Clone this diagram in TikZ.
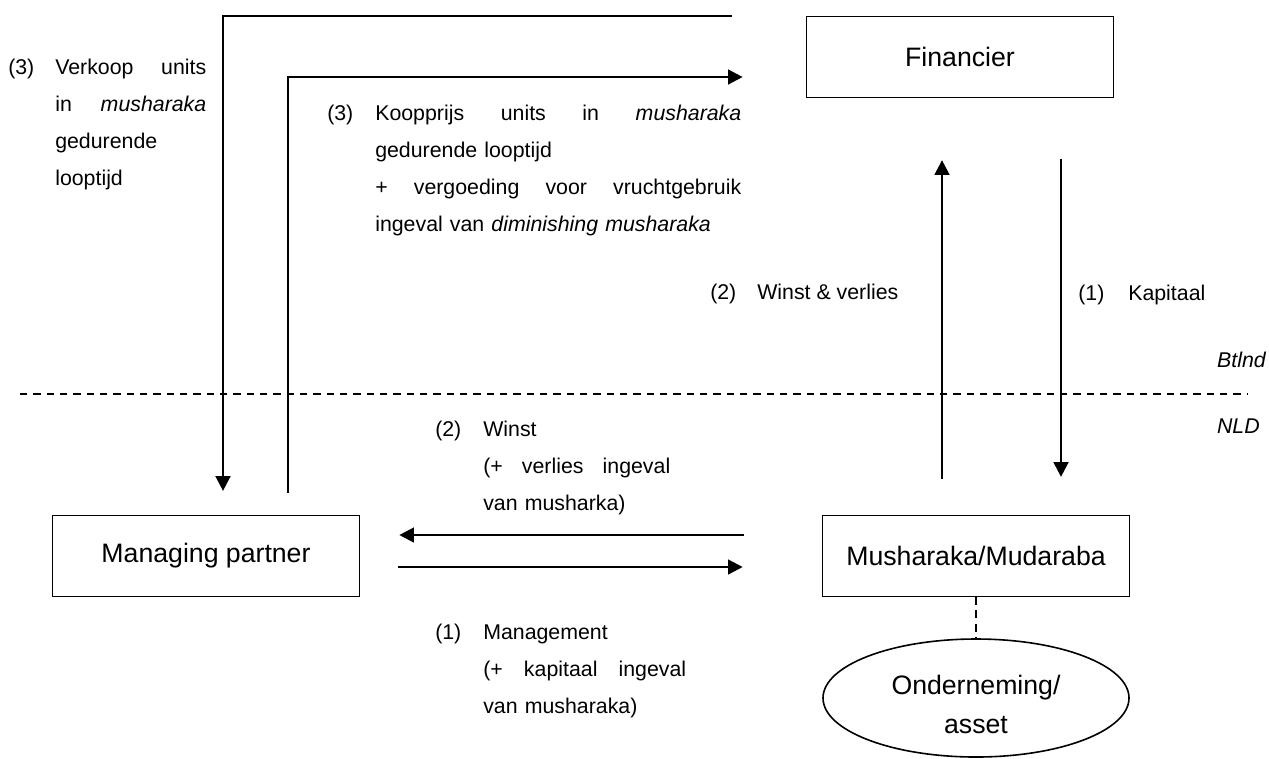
\documentclass[tikz,border=0pt]{standalone}
\usepackage{fontspec}
\setmainfont{Liberation Sans}
\usetikzlibrary{arrows.meta,calc,shapes.geometric}

\begin{document}
\begin{tikzpicture}[x=0.75pt, y=-0.75pt,
	party/.style={draw, line width=1.2pt, minimum width=230.25pt, minimum height=60.5pt, inner sep=0pt, font=\fontsize{20}{29.25}\selectfont},
	lbl/.style={anchor=base west, inner sep=0pt, align=left, font=\fontsize{16}{27.75}\selectfont},
	flow/.style={line width=1.8pt, -{Triangle[length=11pt,width=11pt]}},
	border/.style={line width=1pt, dash pattern=on 5.5pt off 4.5pt}]
	\useasboundingbox (0,0) rectangle (1269,758);

	\node [party] (fin) at (960,57) {Financier};
	\node [party] (mp) at (206,556) {Managing partner};
	\node [party] (mush) at (976,556) {Musharaka/Mudaraba};
	\node [draw, ellipse, line width=1.2pt, minimum width=229.5pt, minimum height=88.5pt, inner sep=0pt, font=\fontsize{20}{29.25}\selectfont] (ond) at (976,698) {\raisebox{-11pt}[0pt][0pt]{\begin{tabular}{@{}c@{}}Onderneming/\\asset\end{tabular}}};

	\draw [border] (20,394) -- (1247,394);
	\node [lbl, font=\fontsize{16}{20}\itshape, anchor=base east] (btl) at (1266,367) {Btlnd};
	\node [lbl, font=\fontsize{16}{20}\itshape, anchor=base east] (nld) at (1260,433) {NLD};

	\node [lbl] (n3a) at (8,74) {(3)};
	\node [lbl, text width=113.25pt] (verkoop) at (55,74) {Verkoop\hfill units\\ in\hfill \textit{musharaka}\\ gedurende\\ looptijd};
	\node [lbl] (n3b) at (327,120) {(3)};
	\node [lbl, text width=274.5pt] (koop) at (375,120) {Koopprijs\hfill units\hfill in\hfill \textit{musharaka}\\ gedurende looptijd\\ +\hfill vergoeding\hfill voor\hfill vruchtgebruik\\ ingeval van \textit{diminishing musharaka}};
	\node [lbl] (n2a) at (710,299) {(2)};
	\node [lbl] (winstverlies) at (757,299) {Winst \& verlies};
	\node [lbl] (n1a) at (1078,300) {(1)};
	\node [lbl] (kapitaal) at (1128,300) {Kapitaal};
	\node [lbl] (n2b) at (435,436) {(2)};
	\node [lbl, text width=140.25pt] (winst) at (483,436) {Winst\\ (+\hfill verlies\hfill ingeval\\ van musharka)};
	\node [lbl] (n1b) at (435,639) {(1)};
	\node [lbl, text width=152.25pt] (management) at (483,639) {Management\\ (+\hfill kapitaal\hfill ingeval\\ van musharaka)};

	\draw [flow] ($(fin.north west)+(-74,0)$) -| ($(mp.north)+(17,-24)$);
	\draw [flow] ($(mp.north)+(82,-22)$) |- ($(fin.west)+(-63,20)$);
	\draw [flow] ($(mush.north)+(-34,-36)$) -- ($(fin.south)+(-18,62)$);
	\draw [flow] ($(fin.south)+(101,61)$) -- ($(mush.north)+(85,-38)$);
	\draw [flow] ($(mush.west)+(-78,-21)$) -- ($(mp.east)+(39,-21)$);
	\draw [flow] ($(mp.east)+(38,11)$) -- ($(mush.west)+(-79,11)$);
	\draw [line width=1.2pt, dash pattern=on 6pt off 4pt] (mush.south) -- (ond.north);
\end{tikzpicture}
\end{document}
